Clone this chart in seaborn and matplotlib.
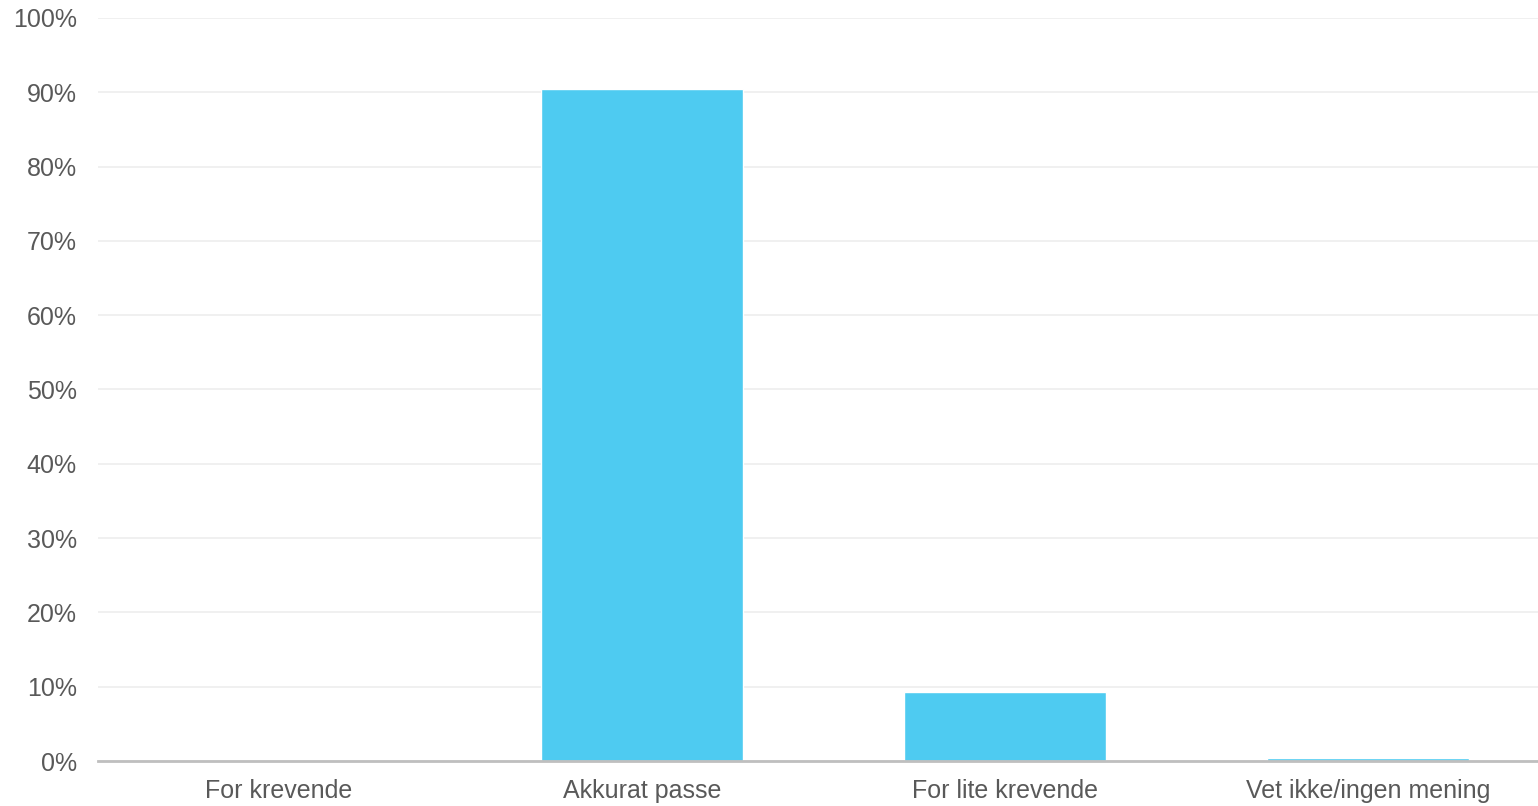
import pandas as pd
import matplotlib
matplotlib.use('Agg')
import matplotlib.pyplot as plt
import seaborn as sns
from matplotlib.ticker import PercentFormatter

categories = ['For krevende', 'Akkurat passe', 'For lite krevende', 'Vet ikke/ingen mening']
values = [0.0, 90.5, 9.3, 0.4]

df = pd.DataFrame({'svar': categories, 'andel': values})

sns.set_style('white')
plt.rcParams['font.family'] = ['Liberation Sans', 'DejaVu Sans']

fig = plt.figure(figsize=(15.38, 8.06), dpi=100)
# axes runs slightly past the right edge, like the original
ax = fig.add_axes([0.0634, 0.0558, 0.944, 0.9219])

sns.barplot(data=df, x='svar', y='andel', color='#4ECBF1', saturation=1,
            width=0.556, ax=ax)

ax.set_ylim(0, 100)
ax.set_yticks(range(0, 101, 10))
ax.yaxis.set_major_formatter(PercentFormatter(decimals=0))
ax.grid(axis='y', color='#EEEEEE', linewidth=1.2)
ax.set_axisbelow(True)
for s in ['top', 'right', 'left']:
    ax.spines[s].set_visible(False)
ax.spines['bottom'].set_color('#BFBFBF')
ax.spines['bottom'].set_linewidth(2)
ax.spines['bottom'].set_zorder(5)
ax.tick_params(axis='both', length=0, labelsize=18, colors='#595959')
ax.tick_params(axis='y', pad=15)
ax.tick_params(axis='x', pad=13)
ax.set_xlabel('')
ax.set_ylabel('')

fig.savefig('out.png', dpi=100)
